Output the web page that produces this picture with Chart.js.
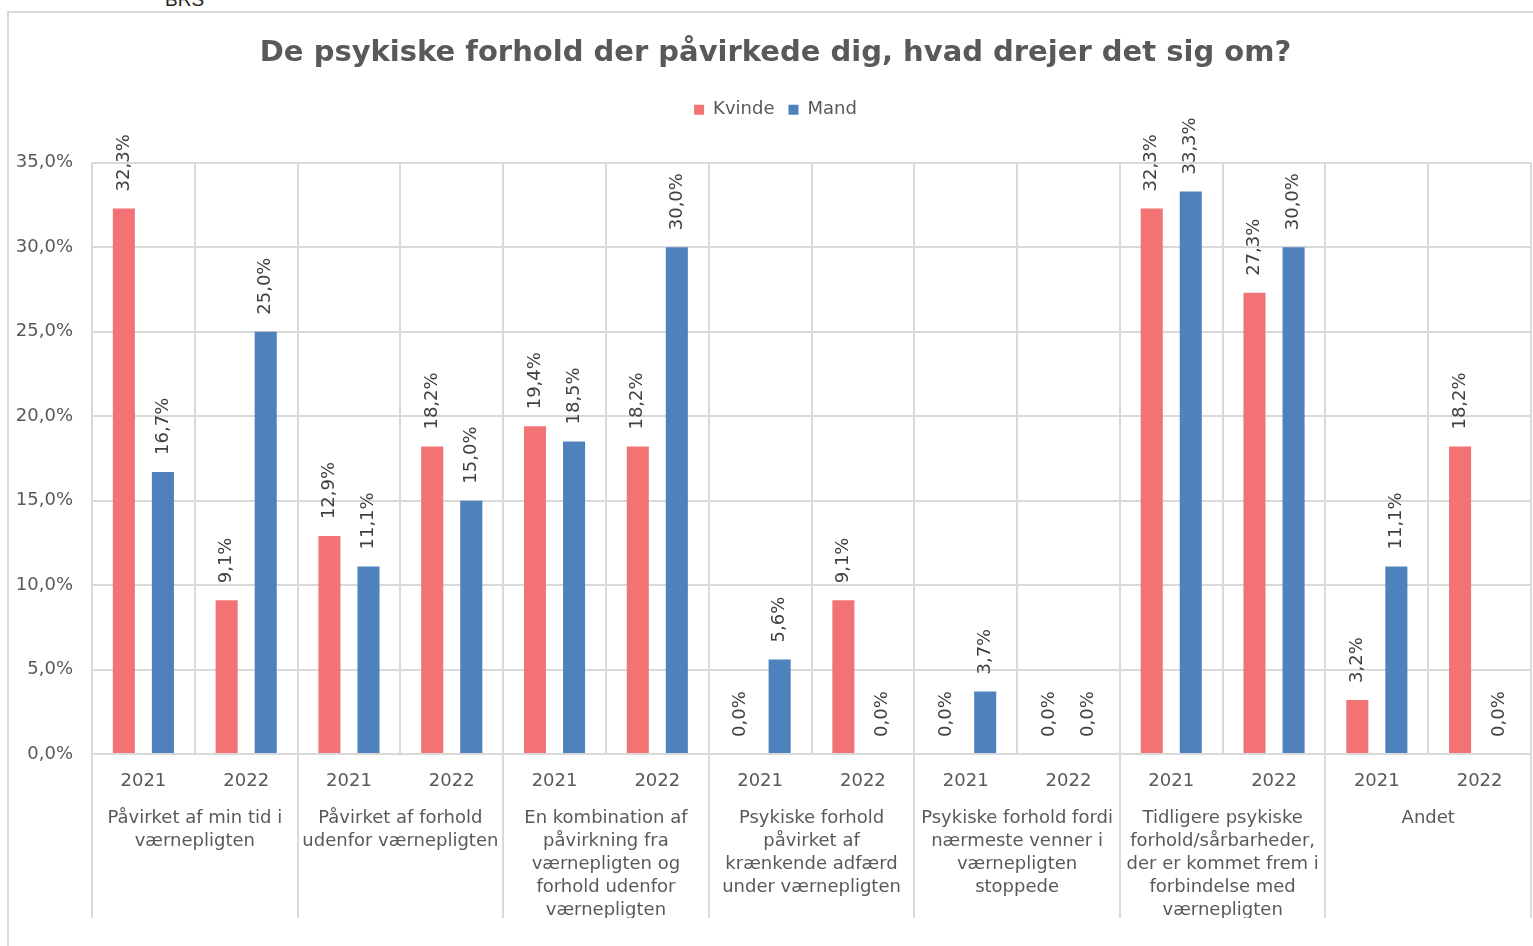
<!DOCTYPE html>
<html>
<head>
<meta charset="utf-8">
<script src="https://cdn.jsdelivr.net/npm/chart.js@4.4.0/dist/chart.umd.min.js"></script>
<style>
    html, body { margin: 0; padding: 0; background: #fff; overflow: hidden; width: 1533px; height: 946px; }
    #brs { position: absolute; left: 165px; top: -11px; font: 19px "Liberation Sans", Arial, sans-serif; color: #222; }
    #frame { position: absolute; left: 7px; top: 11px; width: 1560px; height: 980px; border: 2px solid #d9d9d9; }
    #wrap { position: absolute; left: 10px; top: 14px; width: 1534px; height: 932px; }
</style>
</head>
<body>
<div id="brs">BRS</div>
<div id="frame"></div>
<div id="wrap"><canvas id="chart" width="1534" height="932"></canvas></div>
<script>
// Data
const years = ['2021', '2022', '2021', '2022', '2021', '2022', '2021', '2022', '2021', '2022', '2021', '2022', '2021', '2022'];
const groups = [
    ['Påvirket af min tid i', 'værnepligten'],
    ['Påvirket af forhold', 'udenfor værnepligten'],
    ['En kombination af', 'påvirkning fra', 'værnepligten og', 'forhold udenfor', 'værnepligten'],
    ['Psykiske forhold', 'påvirket af', 'krænkende adfærd', 'under værnepligten'],
    ['Psykiske forhold fordi', 'nærmeste venner i', 'værnepligten', 'stoppede'],
    ['Tidligere psykiske', 'forhold/sårbarheder,', 'der er kommet frem i', 'forbindelse med', 'værnepligten'],
    ['Andet']
];
const kvinde = [32.3, 9.1, 12.9, 18.2, 19.4, 18.2, 0.0, 9.1, 0.0, 0.0, 32.3, 27.3, 3.2, 18.2];
const mand = [16.7, 25.0, 11.1, 15.0, 18.5, 30.0, 5.6, 0.0, 3.7, 0.0, 33.3, 30.0, 11.1, 0.0];
const yTicks = [0, 5, 10, 15, 20, 25, 30, 35];

const TEXT = '#595959';
const GRID = '#d9d9d9';
const FONT = 'DejaVu Sans';

const pct = v => Number(v).toFixed(1).replace('.', ',') + '%';

// rotated value labels above each bar
const barLabels = {
    id: 'barLabels',
    afterDatasetsDraw(chart) {
        const ctx = chart.ctx;
        ctx.save();
        ctx.font = '18px ' + FONT;
        ctx.fillStyle = '#404040';
        ctx.textAlign = 'left';
        ctx.textBaseline = 'middle';
        chart.data.datasets.forEach((ds, i) => {
            chart.getDatasetMeta(i).data.forEach((bar, j) => {
                ctx.save();
                ctx.translate(bar.x, bar.y - 17);
                ctx.rotate(-Math.PI / 2);
                ctx.fillText(pct(ds.data[j]), 0, 0);
                ctx.restore();
            });
        });
        ctx.restore();
    }
};

// long separators between the outer category groups
const groupLines = {
    id: 'groupLines',
    afterDraw(chart) {
        const xs = chart.scales.x;
        const x2 = chart.scales.x2;
        const half = (xs.getPixelForValue(1) - xs.getPixelForValue(0)) / 2;
        const ctx = chart.ctx;
        ctx.save();
        ctx.strokeStyle = GRID;
        ctx.lineWidth = 2;
        for (let k = 0; k <= groups.length; k++) {
            const x = Math.round(xs.getPixelForValue(k * 2) - half);
            ctx.beginPath();
            ctx.moveTo(x, chart.chartArea.bottom);
            ctx.lineTo(x, x2.bottom);
            ctx.stroke();
        }
        ctx.restore();
    }
};

// extra room under the legend
const legendGap = {
    id: 'legendGap',
    beforeInit(chart) {
        const fit = chart.legend.fit;
        chart.legend.fit = function () {
            fit.bind(chart.legend)();
            this.height += 34;
        };
    }
};

new Chart(document.getElementById('chart'), {
    type: 'bar',
    data: {
        labels: years,
        datasets: [
            { label: 'Kvinde', data: kvinde, backgroundColor: '#f37375', categoryPercentage: 0.76, barPercentage: 0.565 },
            { label: 'Mand', data: mand, backgroundColor: '#4f81bd', categoryPercentage: 0.76, barPercentage: 0.565 }
        ]
    },
    options: {
        responsive: false,
        animation: false,
        layout: { padding: { left: 0, right: 3, top: 0, bottom: 28 } },
        plugins: {
            title: {
                display: true,
                text: 'De psykiske forhold der påvirkede dig, hvad drejer det sig om?',
                color: TEXT,
                font: { family: FONT, size: 29, weight: 'bold' },
                padding: { top: 22, bottom: 16 }
            },
            legend: {
                position: 'top',
                labels: {
                    color: TEXT,
                    font: { family: FONT, size: 18 },
                    boxWidth: 10,
                    boxHeight: 10,
                    padding: 14
                }
            },
            tooltip: { enabled: false }
        },
        scales: {
            x: {
                afterFit: s => { s.height = 53; },
                grid: { color: GRID, lineWidth: 2, drawTicks: false },
                border: { display: false },
                ticks: {
                    color: TEXT, font: { family: FONT, size: 18, lineHeight: 1.28 },
                    padding: 16, maxRotation: 0, autoSkip: false
                }
            },
            x2: {
                type: 'category',
                labels: groups,
                position: 'bottom',
                offset: true,
                afterFit: s => { s.height = 111; },
                grid: { display: false, drawTicks: false },
                border: { display: false },
                ticks: {
                    color: TEXT, font: { family: FONT, size: 18, lineHeight: 1.28 },
                    padding: 0, maxRotation: 0, autoSkip: false
                }
            },
            y: {
                min: 0,
                max: 35,
                afterBuildTicks: s => { s.ticks = yTicks.map(v => ({ value: v })); },
                afterFit: s => { s.width = 82; },
                grid: { color: GRID, lineWidth: 2, drawTicks: false },
                border: { display: false },
                ticks: {
                    color: TEXT, font: { family: FONT, size: 18 },
                    padding: 19,
                    callback: v => pct(v)
                }
            },
            // empty right margin so the title centres like the original
            yRight: {
                position: 'right',
                afterFit: s => { s.width = 10; },
                grid: { display: false, drawTicks: false },
                border: { display: false },
                ticks: { display: false }
            }
        }
    },
    plugins: [barLabels, groupLines, legendGap]
});
</script>
</body>
</html>
